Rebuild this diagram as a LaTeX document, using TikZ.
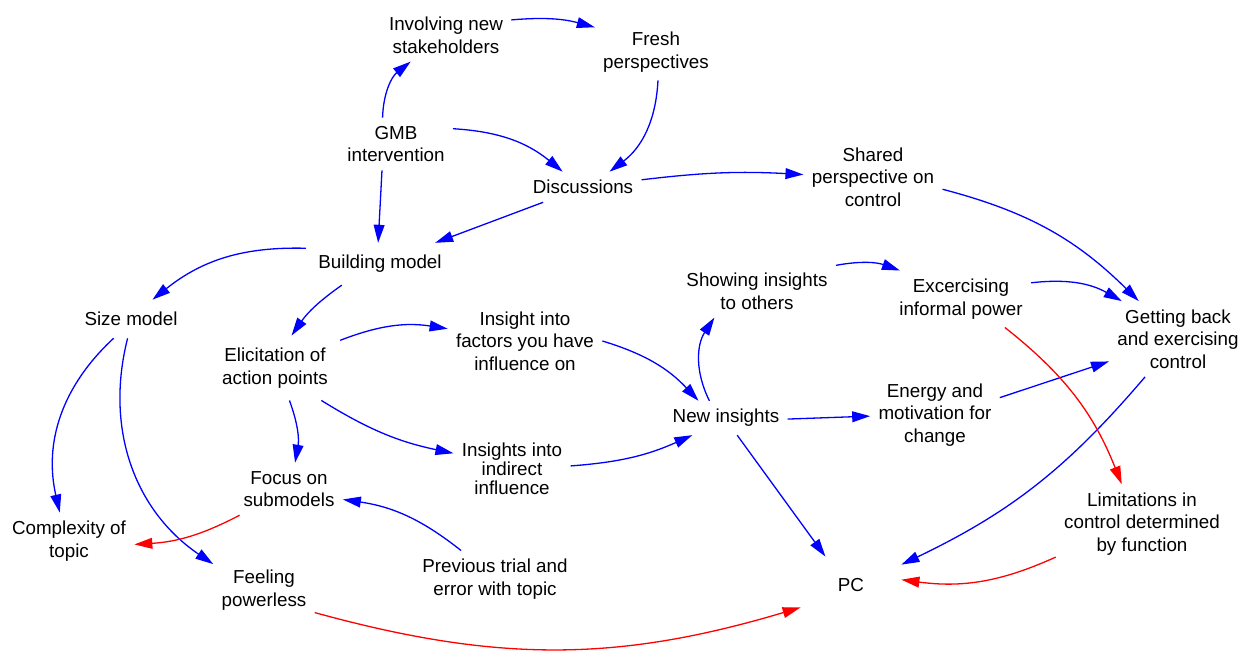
\documentclass[tikz,border=0pt]{standalone}
\usepackage{fontspec}
\setmainfont{Liberation Sans}
\usetikzlibrary{arrows.meta}
\begin{document}
\begin{tikzpicture}[x=0.5pt,y=-0.5pt,
  var/.style={align=center, inner sep=4pt, font=\fontsize{9.4}{11.3}\selectfont, text=black},
  link/.style={line width=0.65pt, -{Triangle[length=9pt,width=5.4pt]}},
  poslink/.style={link, draw=blue},
  neglink/.style={link, draw=red}]
\useasboundingbox (0,0) rectangle (1239,656);

% variables
\node[var] (inv) at (446,35) {Involving new\\stakeholders};
\node[var] (fresh) at (656,52) {Fresh\\perspectives};
\node[var] (gmb) at (396,144) {GMB\\intervention};
\node[var] (disc) at (583,187) {Discussions};
\node[var] (shared) at (873,177) {Shared\\perspective on\\control};
\node[var, inner sep=6pt] (build) at (380,264) {Building model};
\node[var, inner sep=6pt] (size) at (131,319) {Size model};
\node[var, inner sep=6pt] (elic) at (275,368) {Elicitation of\\action points};
\node[var] (factors) at (525,341) {Insight into\\factors you have\\influence on};
\node[var] (show) at (757,291) {Showing insights\\to others};
\node[var] (infp) at (961,299) {Excercising\\informal power};
\node[var] (getb) at (1178,339) {Getting back\\and exercising\\control};
\node[var] (energy) at (935,415) {Energy and\\motivation for\\change};
\node[var] (newi) at (726,418) {New insights};
\node[var, font=\fontsize{9.4}{9.6}\selectfont] (indir) at (512,469) {Insights into\\indirect\\influence};
\node[var] (focus) at (289,489) {Focus on\\submodels};
\node[var] (compl) at (69,541) {Complexity of\\topic};
\node[var] (feel) at (264,590) {Feeling\\powerless};
\node[var] (prev) at (495,579) {Previous trial and\\error with topic};
\node[var] (limit) at (1142,524) {Limitations in\\control determined\\by function};
\node[var, minimum width=50pt, minimum height=28pt] (pc) at (851,585) {PC};

% positive links
\draw[poslink] (gmb.117) to[bend left=25] (inv.217);
\draw[poslink] (inv.13) to[bend left=10] (fresh.158);
\draw[poslink] (gmb.15) to[bend left=18] (disc.143);
\draw[poslink] (fresh.-86) to[bend left=25] (disc.30);
\draw[poslink] (gmb.-118) -- (build.95);
\draw[poslink] (disc.201) -- (build.21);
\draw[poslink] (disc.7) to[bend left=5] (shared.178);
\draw[poslink] (shared.-10) to[bend left=15] (getb.136);
\draw[poslink] (build.168) to[bend right=20] (size.42);
\draw[poslink] (build.-151) to[bend right=10] (elic.63);
\draw[poslink] (elic.23) to[bend left=15] (factors.171);
\draw[poslink] (factors.0) to[bend left=15] (newi.148);
\draw[poslink] (newi.134) to[bend left=30] (show.212);
\draw[poslink] (show.18) to[bend left=15] (infp.155);
\draw[poslink] (infp.13) to[bend left=18] (getb.146);
\draw[poslink] (energy.15) -- (getb.198);
\draw[poslink] (newi.-1) -- (energy.181);
\draw[poslink] (elic.-66) to[bend left=15] (focus.77);
\draw[poslink] (elic.-35) to[bend right=10] (indir.165);
\draw[poslink] (indir.3) to[bend right=10] (newi.207);
\draw[poslink] (newi.-57) -- (pc.132);
\draw[poslink] (getb.229) to[bend left=12] (pc.22);
\draw[poslink] (prev.140) to[bend right=15] (focus.-11);
\draw[poslink] (size.228) to[bend right=30] (compl.108);
\draw[poslink] (size.260) to[bend right=35] (feel.153);

% negative links
\draw[neglink] (limit.201) to[bend left=16] (pc.6);
\draw[neglink] (infp.-33) to[bend left=15] (limit.117);
\draw[neglink] (focus.208) to[bend left=12] (compl.-3);
\draw[neglink] (feel.-24) to[bend right=16] (pc.204);
\end{tikzpicture}
\end{document}
